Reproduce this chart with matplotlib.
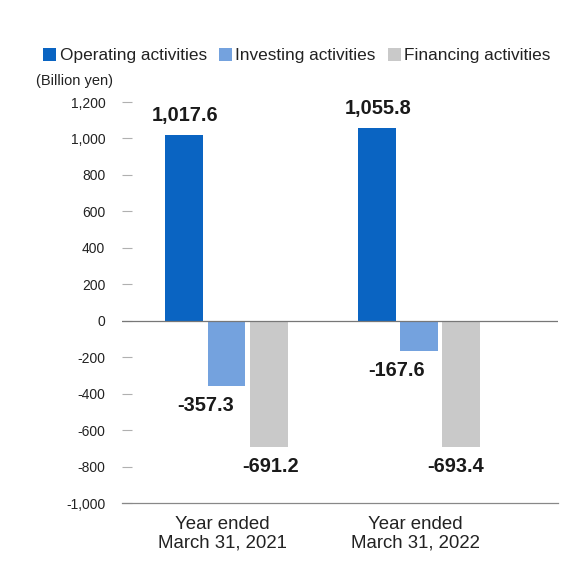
import matplotlib
matplotlib.use("Agg")
import matplotlib.pyplot as plt
import numpy as np

plt.rcParams['font.family'] = ['Liberation Sans', 'DejaVu Sans']

categories = ["Year ended\nMarch 31, 2021", "Year ended\nMarch 31, 2022"]
series_names = ["Operating activities", "Investing activities", "Financing activities"]
operating = [1017.6, 1055.8]
investing = [-357.3, -167.6]
financing = [-691.2, -693.4]
value_labels = [["1,017.6", "1,055.8"], ["-357.3", "-167.6"], ["-691.2", "-693.4"]]
yticks = [-1000, -800, -600, -400, -200, 0, 200, 400, 600, 800, 1000, 1200]
ytick_labels = ["-1,000", "-800", "-600", "-400", "-200", "0", "200", "400", "600", "800", "1,000", "1,200"]

colors = ["#0a64c2", "#74a2de", "#c9c9c9"]

fig = plt.figure(figsize=(5.79, 5.87), dpi=100)
ax = fig.add_axes([0.2107, 0.1431, 0.7530, 0.6831])

x = np.arange(len(categories))
width = 0.197
offsets = [-0.22, 0.0, 0.22]
series = [operating, investing, financing]
label_dx = [[1, 1], [-15, -16], [1, -4]]

bars_all = []
for i, (vals, col, name) in enumerate(zip(series, colors, series_names)):
    bars = ax.bar(x + offsets[i], vals, width, color=col, label=name, zorder=2)
    bars_all.append(bars)
    for j, v in enumerate(vals):
        dy = 14 if v >= 0 else -14
        ax.annotate(value_labels[i][j], xy=(x[j] + offsets[i], v),
                    xytext=(label_dx[i][j], dy), textcoords='offset points',
                    ha='center', va='center', fontsize=14.4, fontweight='bold',
                    color='#1a1a1a')

ax.set_xlim(-0.543, 1.722)
ax.set_ylim(-1000, 1200)
ax.set_yticks(yticks)
ax.set_yticklabels(ytick_labels)
ax.set_xticks(x - 0.02)
ax.set_xticklabels(categories, fontsize=13.4, color='#222222', linespacing=1.12)
ax.tick_params(axis='x', length=0, pad=9)
ax.tick_params(axis='y', direction='in', length=7, width=0.8, color='#b0b0b0',
               pad=12, labelsize=10, labelcolor='#222222')

for s in ['left', 'right', 'top']:
    ax.spines[s].set_visible(False)
ax.spines['bottom'].set_color('#888888')
ax.spines['bottom'].set_linewidth(0.9)
ax.axhline(0, color='#777777', linewidth=0.9, zorder=3)

fig.text(0.062, 0.862, "(Billion yen)", fontsize=10.5, color='#222222',
         ha='left', va='center')

fig.legend(handles=bars_all, labels=series_names, loc='center',
           bbox_to_anchor=(0.513, 0.905), ncol=3, frameon=False,
           fontsize=12.4, handlelength=0.75, handleheight=0.75,
           handletextpad=0.2, columnspacing=0.7, labelcolor='#222222')

fig.savefig("out.png", dpi=100, facecolor='white')
